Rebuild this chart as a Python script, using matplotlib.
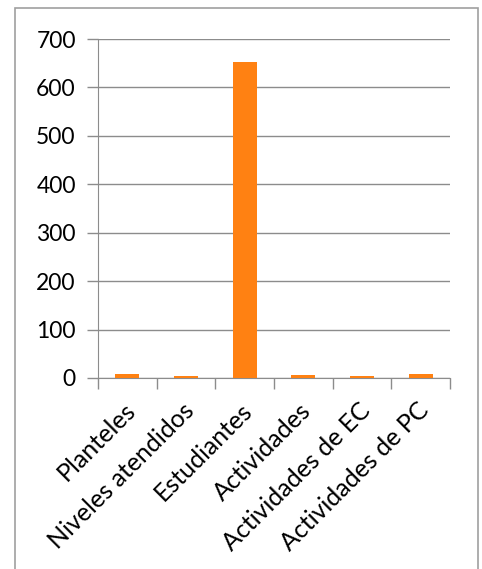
import matplotlib
matplotlib.use("Agg")
from matplotlib import pyplot as plt
from matplotlib.patches import Rectangle
from matplotlib.transforms import ScaledTranslation

# Data
categorias = ["Planteles", "Niveles atendidos", "Estudiantes", "Actividades",
              "Actividades de EC", "Actividades de PC"]
valores = [8, 4, 653, 7, 5, 8]
yticks = [0, 100, 200, 300, 400, 500, 600, 700]

plt.rcParams['font.family'] = ['Lato', 'DejaVu Sans']

fig = plt.figure(figsize=(4.82, 5.69), dpi=100)
ax = fig.add_axes([98/482, 1 - 378/569, 352/482, 339/569])

# outer frame like the spreadsheet chart area
fig.patches.append(Rectangle((15/482, -0.01), 463/482, 1.01 - 8/569,
                             transform=fig.transFigure, fill=False,
                             edgecolor='#a0a0a0', linewidth=1.2))

x = range(len(categorias))
ax.bar(x, valores, width=0.41, color='#FF8112', zorder=3)

ax.set_xlim(-0.5, len(categorias) - 0.5)
ax.set_ylim(0, 700)
ax.set_yticks(yticks)
ax.set_yticklabels([str(v) for v in yticks], fontsize=16.5)
ax.yaxis.grid(True, color='#8c8c8c', linewidth=1.0, zorder=0)

# category ticks between the bars
ax.set_xticks([i - 0.5 for i in range(len(categorias) + 1)])
ax.set_xticklabels([])
ax.set_xticks(list(x), minor=True)
ax.set_xticklabels(categorias, minor=True, rotation=45, ha='right',
                   rotation_mode='anchor', fontsize=18)
ax.tick_params(axis='x', which='minor', length=0, pad=14.8)
ax.tick_params(axis='x', which='major', length=8, color='#8c8c8c', width=1.0)
ax.tick_params(axis='y', length=8, color='#8c8c8c', width=1.0, pad=8)

shift = ScaledTranslation(-4/100, 0, fig.dpi_scale_trans)
for lbl in ax.get_xticklabels(minor=True):
    lbl.set_transform(lbl.get_transform() + shift)

for s in ['top', 'right']:
    ax.spines[s].set_visible(False)
ax.spines['left'].set_color('#8c8c8c')
ax.spines['bottom'].set_color('#8c8c8c')

fig.savefig("out.png", dpi=100)
